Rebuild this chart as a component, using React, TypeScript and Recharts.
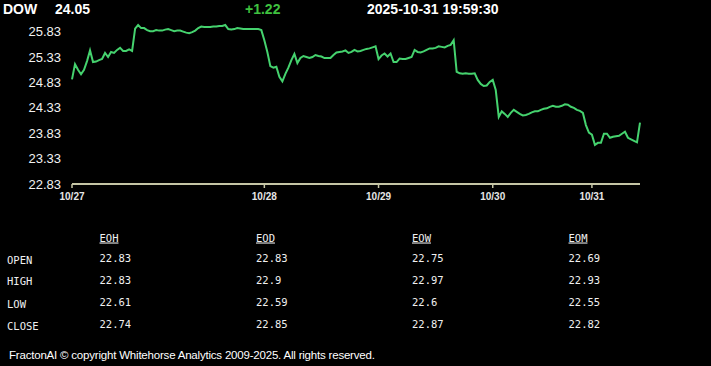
import React from 'react';
import { LineChart, Line, XAxis, YAxis } from 'recharts';

const symbol = 'DOW';
const lastPrice = '24.05';
const change = '+1.22';
const stamp = '2025-10-31 19:59:30';

const dayTicks = [0, 64, 102, 140, 173];
const dayLabels = ['10/27', '10/28', '10/29', '10/30', '10/31'];
const yTicks = [22.83, 23.33, 23.83, 24.33, 24.83, 25.33, 25.83];

const prices = [
  24.89, 25.19, 25.08, 24.99, 25.08, 25.25, 25.46, 25.23, 25.24, 25.27,
  25.29, 25.41, 25.33, 25.43, 25.41, 25.47, 25.51, 25.45, 25.45, 25.48,
  25.45, 25.89, 25.96, 25.90, 25.90, 25.86, 25.84, 25.84, 25.86, 25.85,
  25.85, 25.87, 25.88, 25.86, 25.84, 25.85, 25.85, 25.83, 25.81, 25.80,
  25.82, 25.85, 25.90, 25.93, 25.92, 25.92, 25.92, 25.93, 25.93, 25.94,
  25.94, 25.96, 25.88, 25.87, 25.88, 25.90, 25.89, 25.88, 25.88, 25.88,
  25.88, 25.88, 25.88, 25.86, 25.66, 25.43, 25.15, 25.12, 25.14, 24.94,
  24.85, 25.00, 25.12, 25.27, 25.39, 25.21, 25.31, 25.35, 25.33, 25.31,
  25.33, 25.37, 25.35, 25.34, 25.31, 25.31, 25.31, 25.37, 25.42, 25.43,
  25.44, 25.46, 25.41, 25.43, 25.47, 25.44, 25.45, 25.47, 25.49, 25.50,
  25.52, 25.54, 25.29, 25.36, 25.40, 25.34, 25.40, 25.23, 25.23, 25.30,
  25.29, 25.29, 25.31, 25.33, 25.47, 25.43, 25.42, 25.44, 25.47, 25.50,
  25.50, 25.51, 25.54, 25.53, 25.52, 25.55, 25.57, 25.66, 25.04, 25.01,
  25.00, 25.01, 25.00, 25.00, 25.01, 24.88, 24.80, 24.76, 24.77, 24.84,
  24.88, 24.68, 24.15, 24.26, 24.21, 24.15, 24.23, 24.29, 24.25, 24.21,
  24.18, 24.19, 24.21, 24.24, 24.26, 24.26, 24.29, 24.31, 24.32, 24.35,
  24.37, 24.35, 24.35, 24.37, 24.40, 24.39, 24.35, 24.33, 24.29, 24.27,
  24.23, 23.99, 23.84, 23.80, 23.60, 23.64, 23.64, 23.82, 23.82, 23.74,
  23.76, 23.77, 23.78, 23.82, 23.86, 23.74, 23.71, 23.68, 23.65, 24.04,
];

const tableCols = ['EOH', 'EOD', 'EOW', 'EOM'];
const rowLabels = ['OPEN', 'HIGH', 'LOW', 'CLOSE'];
const openVals = ['22.83', '22.83', '22.75', '22.69'];
const highVals = ['22.83', '22.9', '22.97', '22.93'];
const lowVals = ['22.61', '22.59', '22.6', '22.55'];
const closeVals = ['22.74', '22.85', '22.87', '22.82'];
const tableRows = [openVals, highVals, lowVals, closeVals];

const footer = 'FractonAI \u00a9 copyright Whitehorse Analytics 2009-2025. All rights reserved.';

const data = prices.map((p, i) => ({ i, p }));

const SANS = '"Liberation Sans", Arial, sans-serif';
const MONO = '"DejaVu Sans Mono", "Liberation Mono", monospace';
const AXIS = '#c5c5a5';

const colX = [99.5, 256, 412, 568.5];
const rowY = [262, 283.5, 306, 328];

export default function App() {
  return (
    <div style={{ position: 'absolute', left: 0, top: 0, width: 711, height: 366, background: '#000', overflow: 'hidden' }}>
      <div style={{ position: 'absolute', left: 0, top: 0 }}>
        <LineChart width={711} height={220} data={data} margin={{ top: 23, right: 71, left: 0, bottom: 6 }}>
          <XAxis
            dataKey="i"
            type="number"
            domain={[0, prices.length - 1]}
            ticks={dayTicks}
            interval={0}
            tickFormatter={(v) => dayLabels[dayTicks.indexOf(v)] ?? ''}
            axisLine={{ stroke: AXIS, strokeWidth: 2 }}
            tickLine={{ stroke: AXIS, strokeWidth: 1.5 }}
            tickSize={4}
            tickMargin={5}
            tick={{ fill: '#e6e6e6', fontSize: 10, fontWeight: 'bold', fontFamily: SANS }}
          />
          <YAxis
            type="number"
            domain={[22.83, 26.0]}
            ticks={yTicks}
            interval={0}
            width={72}
            axisLine={false}
            tickLine={false}
            tickMargin={5}
            tickFormatter={(v) => Number(v).toFixed(2)}
            tick={{ fill: '#f2f2f2', fontSize: 13, fontFamily: SANS }}
            allowDataOverflow
          />
          <Line
            type="linear"
            dataKey="p"
            stroke="#45d26e"
            strokeWidth={2}
            dot={false}
            isAnimationActive={false}
          />
        </LineChart>
      </div>
      <svg width={711} height={366} style={{ position: 'absolute', left: 0, top: 0, pointerEvents: 'none' }}>
        <g fontFamily={SANS} fontWeight="bold" fontSize={14}>
          <text x={3} y={14} fill="#fff">{symbol}</text>
          <text x={55} y={14} fill="#fff">{lastPrice}</text>
          <text x={245} y={14} fill="#3fc13f">{change}</text>
          <text x={367} y={14} fill="#fff">{stamp}</text>
        </g>
        <g fontFamily={MONO} fontSize={10.5} fill="#f0f0f0">
          {tableCols.map((c, k) => (
            <text key={c} x={colX[k]} y={241.5} style={{ textDecoration: 'underline' }}>{c}</text>
          ))}
          {rowLabels.map((r, j) => (
            <text key={r} x={7} y={rowY[j] + 1.5}>{r}</text>
          ))}
          {tableRows.map((row, j) =>
            row.map((v, k) => (
              <text key={`${j}-${k}`} x={colX[k]} y={rowY[j]}>{v}</text>
            ))
          )}
        </g>
        <text x={9} y={359} fontFamily={SANS} fontSize={11.5} letterSpacing={-0.2} fill="#fff">{footer}</text>
      </svg>
    </div>
  );
}
